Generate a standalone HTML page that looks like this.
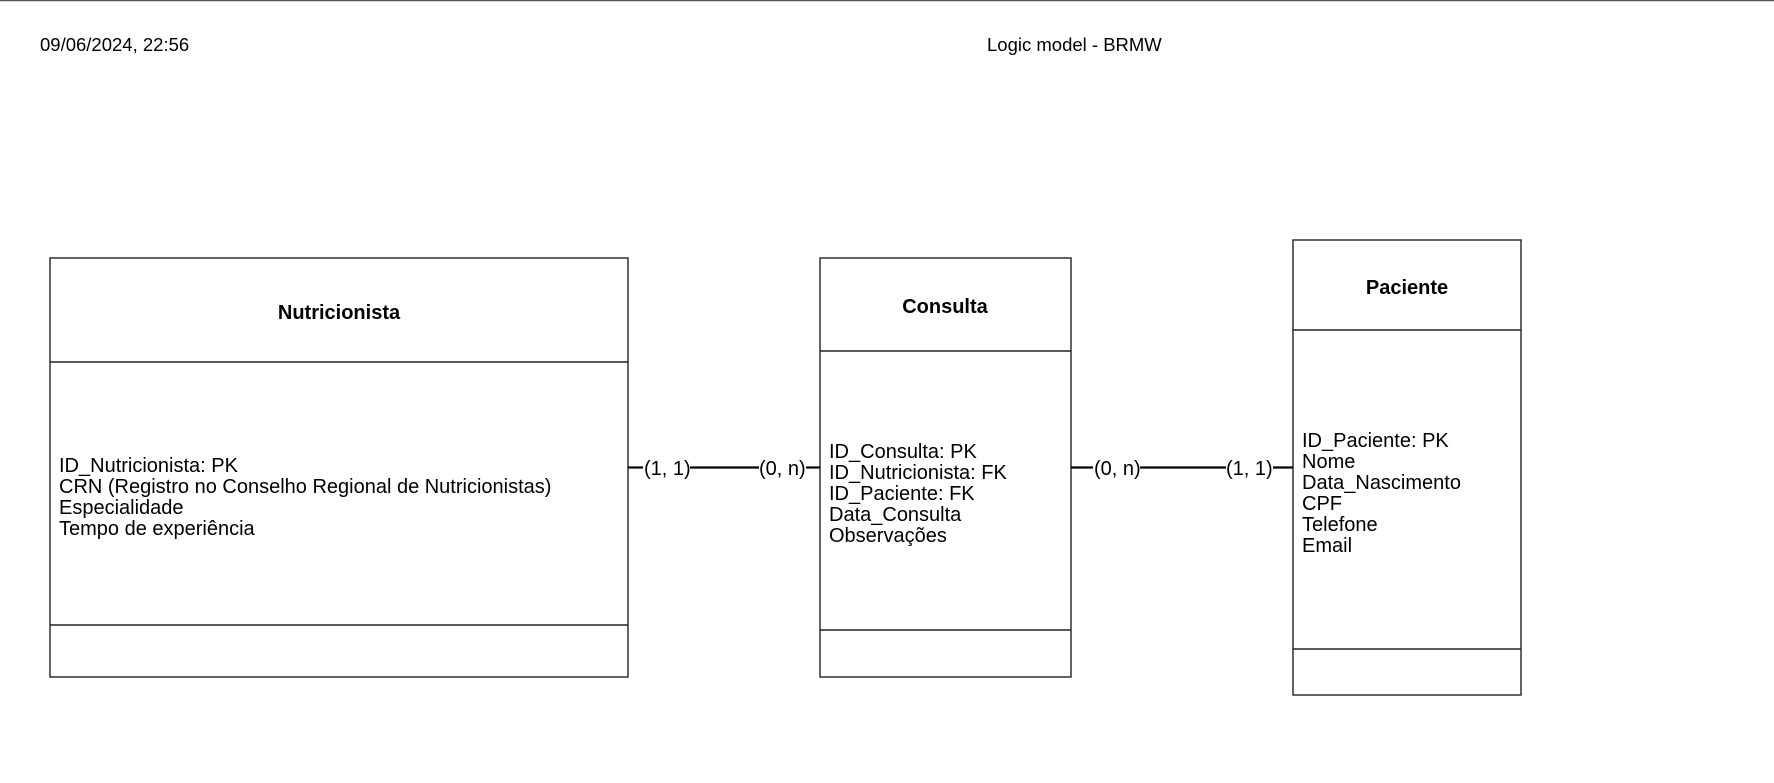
<!DOCTYPE html>
<html><head><meta charset="utf-8"><style>
html,body{margin:0;padding:0;background:#fff;}
svg{display:block;}
text{font-family:"Liberation Sans",sans-serif;fill:#000;}
</style></head><body>
<svg width="1774" height="783" viewBox="0 0 1774 783" xmlns="http://www.w3.org/2000/svg">
<line x1="0" y1="0.5" x2="1774" y2="0.5" stroke="#555" stroke-width="1.5"/>
<text x="40" y="51" font-size="18.5">09/06/2024, 22:56</text>
<text x="987" y="51" font-size="18.5">Logic model - BRMW</text>
<g fill="none" stroke="#222" stroke-width="1.4">
<rect x="50" y="258" width="578" height="419"/>
<line x1="50" y1="362" x2="628" y2="362"/>
<line x1="50" y1="625" x2="628" y2="625"/>
<rect x="820" y="258" width="251" height="419"/>
<line x1="820" y1="351" x2="1071" y2="351"/>
<line x1="820" y1="630" x2="1071" y2="630"/>
<rect x="1293" y="240" width="228" height="455"/>
<line x1="1293" y1="330" x2="1521" y2="330"/>
<line x1="1293" y1="649" x2="1521" y2="649"/>
</g>
<g stroke="#000" stroke-width="2.2">
<line x1="628" y1="467.5" x2="643" y2="467.5"/>
<line x1="690" y1="467.5" x2="759" y2="467.5"/>
<line x1="806" y1="467.5" x2="820" y2="467.5"/>
<line x1="1071" y1="467.5" x2="1093" y2="467.5"/>
<line x1="1140" y1="467.5" x2="1226" y2="467.5"/>
<line x1="1273" y1="467.5" x2="1293" y2="467.5"/>
</g>
<g font-size="20">
<text x="644" y="475">(1, 1)</text>
<text x="759" y="475">(0, n)</text>
<text x="1094" y="475">(0, n)</text>
<text x="1226" y="475">(1, 1)</text>
</g>
<g font-size="20" font-weight="bold" text-anchor="middle">
<text x="339" y="319">Nutricionista</text>
<text x="945" y="313">Consulta</text>
<text x="1407" y="294">Paciente</text>
</g>
<g font-size="20">
<text x="59" y="472">ID_Nutricionista: PK</text>
<text x="59" y="493">CRN (Registro no Conselho Regional de Nutricionistas)</text>
<text x="59" y="514">Especialidade</text>
<text x="59" y="535">Tempo de experiência</text>
<text x="829" y="458">ID_Consulta: PK</text>
<text x="829" y="479">ID_Nutricionista: FK</text>
<text x="829" y="500">ID_Paciente: FK</text>
<text x="829" y="521">Data_Consulta</text>
<text x="829" y="542">Observações</text>
<text x="1302" y="447">ID_Paciente: PK</text>
<text x="1302" y="468">Nome</text>
<text x="1302" y="489">Data_Nascimento</text>
<text x="1302" y="510">CPF</text>
<text x="1302" y="531">Telefone</text>
<text x="1302" y="552">Email</text>
</g>
</svg>
</body></html>
